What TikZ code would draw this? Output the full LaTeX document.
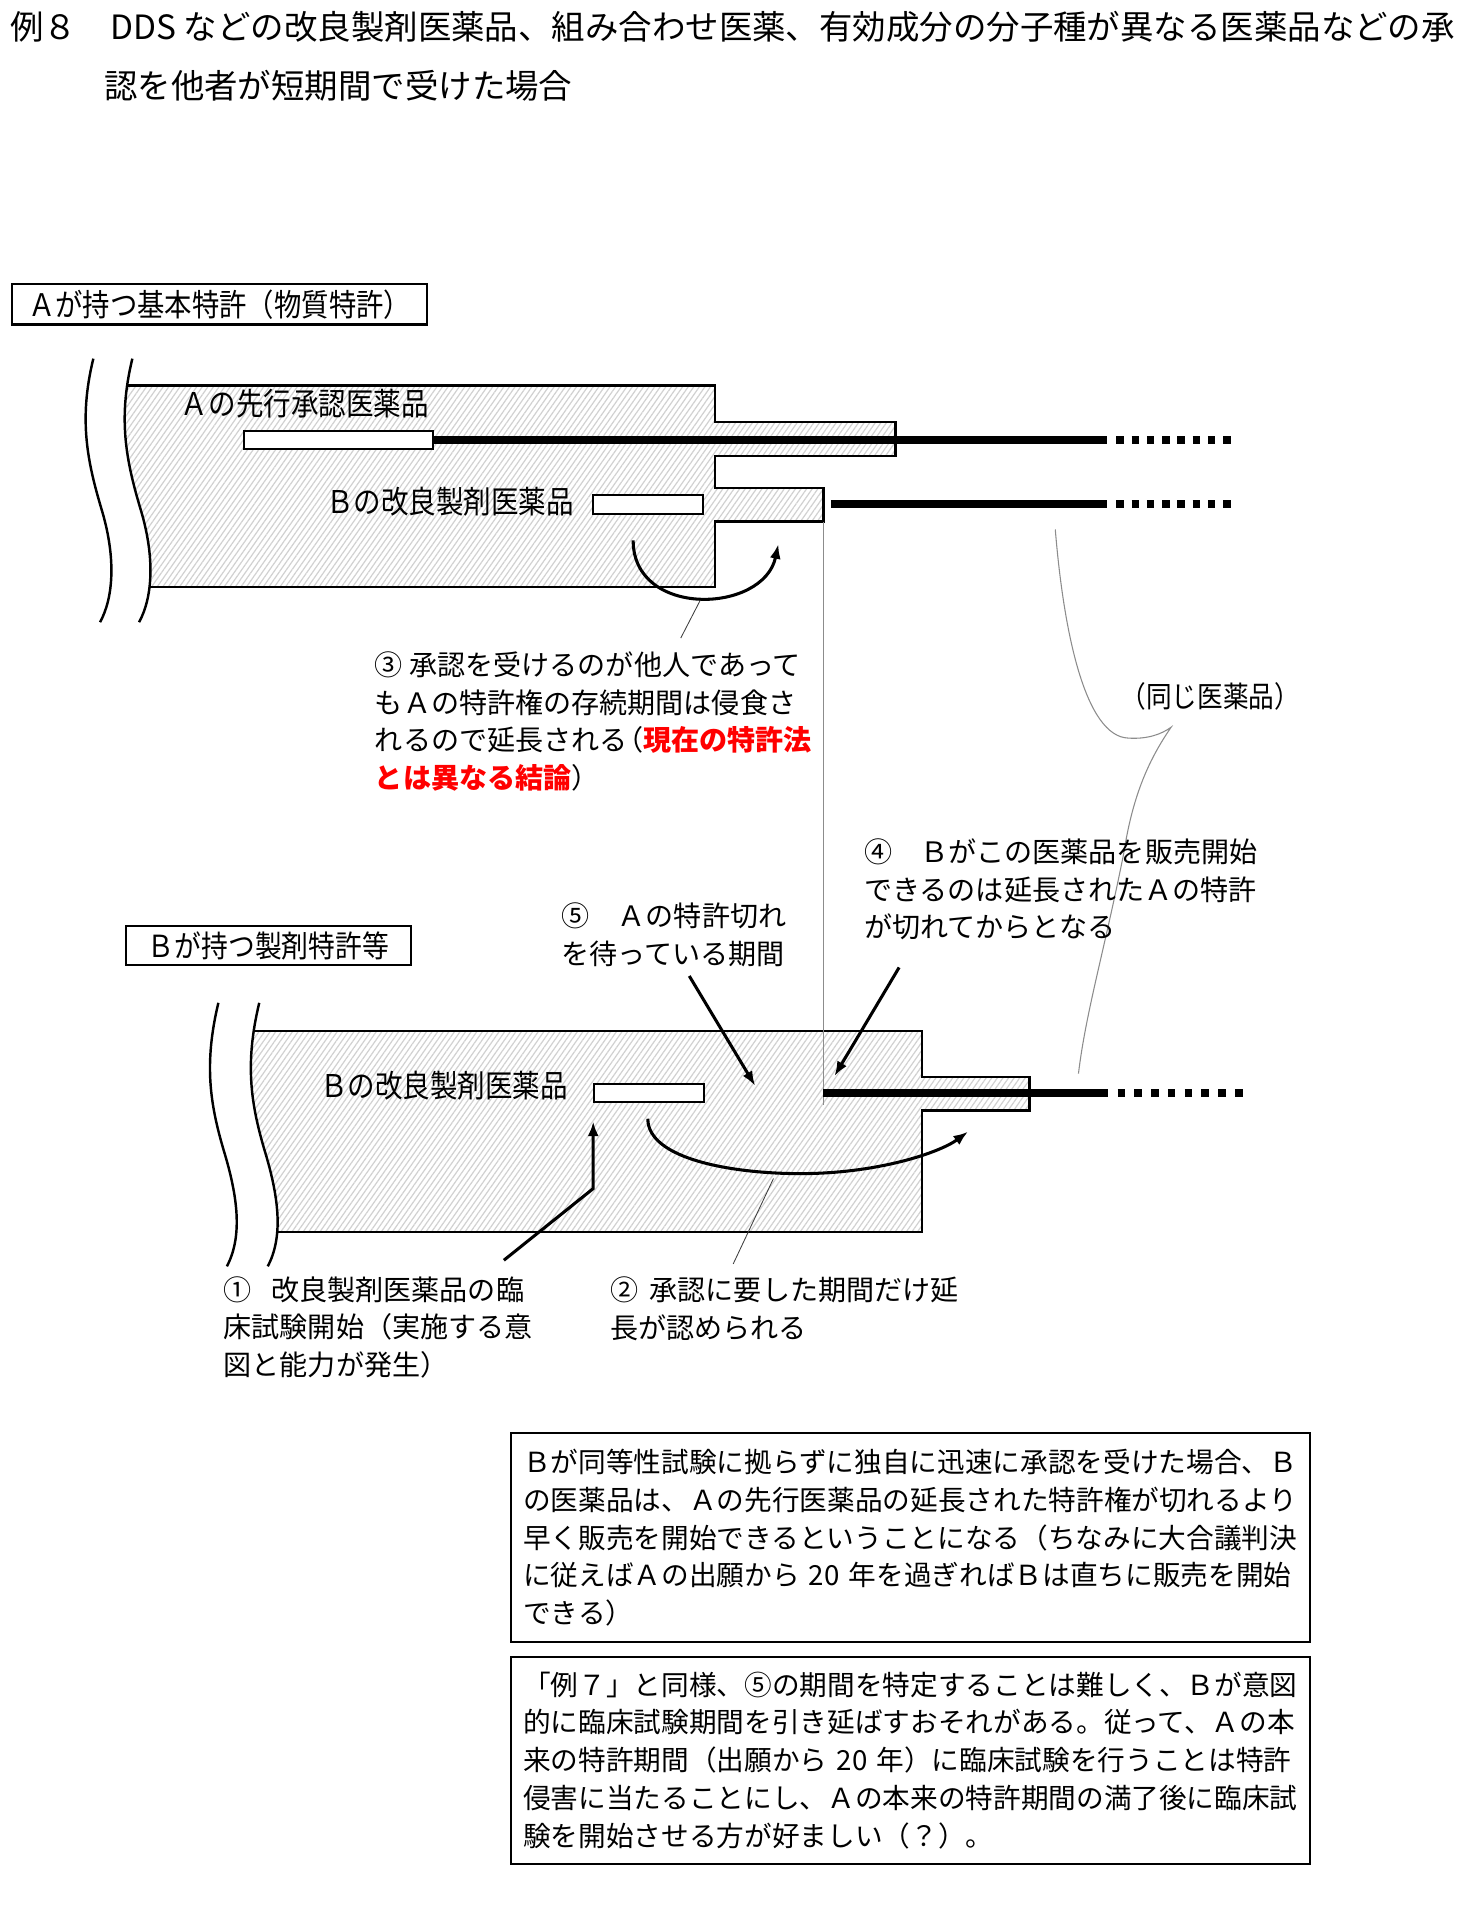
\documentclass[tikz,border=0pt]{standalone}
\usepackage{fontspec}
\setmainfont{Noto Sans CJK JP}
\newfontfamily\jpn{Noto Sans CJK JP}
\newfontfamily\jpnc[FakeStretch=0.88]{Noto Sans CJK JP}
\usepackage{xcolor}
\usetikzlibrary{arrows.meta,patterns.meta}
\tikzset{
  blk/.style={draw, line width=0.4mm, pattern={Lines[angle=55,distance=0.75mm,line width=0.2mm]}, pattern color=black!18},
  wave/.style={line width=0.4mm},
  bar/.style={draw, fill=white, line width=0.3mm, minimum height=3mm, inner sep=0pt},
  tline/.style={line width=1.25mm},
  dline/.style={line width=1.25mm, dash pattern=on 1.25mm off 1.25mm},
  arr/.style={-{Latex[length=2.4mm,width=1.8mm]}, line width=0.5mm},
  lead/.style={line width=0.4pt, black!75},
  grayln/.style={line width=0.5pt, black!45},
  ttl/.style={anchor=west, inner sep=0pt, font=\jpn\fontsize{15.6pt}{18pt}\selectfont},
  tag/.style={draw, line width=0.35mm, inner sep=0pt},
  lbl/.style={anchor=west, inner sep=0pt, font=\jpnc\fontsize{14.6pt}{17pt}\selectfont},
  note/.style={anchor=west, inner sep=0pt, align=left, font=\jpn\fontsize{13.1pt}{17.6pt}\selectfont},
  memo/.style={draw, line width=0.35mm, anchor=north west, align=left, text width=127mm,
    inner xsep=2mm, font=\jpn\fontsize{12.9pt}{17.6pt}\selectfont}
}

\begin{document}
\begin{tikzpicture}[x=0.2mm,y=-0.2mm]
  \useasboundingbox (0,0) rectangle (1209.8,1573.8);

  \node[ttl] (t1) at (8,22) {例８　DDS などの改良製剤医薬品、組み合わせ医薬、有効成分の分子種が異なる医薬品などの承};
  \node[ttl] (t2) at (85,70) {認を他者が短期間で受けた場合};

  \node[tag, minimum width=68mm, minimum height=6.6mm, font=\jpnc\fontsize{14.5pt}{17pt}\selectfont] (patA) at (180,249.5) {Ａが持つ基本特許（物質特許）};
  \node[tag, minimum width=46.8mm, minimum height=6.4mm, font=\jpnc\fontsize{14.2pt}{17pt}\selectfont] (patB) at (220,775) {Ｂが持つ製剤特許等};

  % upper block
  \begin{scope}
    \clip (108.5,294) .. controls (96,345) and (104,380) .. (116,420) .. controls (127,458) and (125,490) .. (114,510) -- (1200,510) -- (1200,280) -- cycle;
    \path[blk] (60,316) -- (586,316) -- (586,346) -- (734,346) -- (734,374) -- (586,374) -- (586,400)
      -- (675,400) -- (675,427.5) -- (586,427.5) -- (586,481) -- (60,481) -- cycle;
  \end{scope}
  \draw[wave] (76.5,294) .. controls (64,345) and (72,380) .. (84,420) .. controls (95,458) and (93,490) .. (82,510);
  \draw[wave] (108.5,294) .. controls (96,345) and (104,380) .. (116,420) .. controls (127,458) and (125,490) .. (114,510);

  % lower block
  \begin{scope}
    \clip (212.5,822) .. controls (200.5,872) and (205.5,905) .. (217.5,945) .. controls (229.5,985) and (231.5,1015) .. (219.5,1038) -- (1200,1038) -- (1200,810) -- cycle;
    \path[blk] (150,845) -- (755.6,845) -- (755.6,883) -- (844,883) -- (844,910.4) -- (755.6,910.4)
      -- (755.6,1010) -- (150,1010) -- cycle;
  \end{scope}
  \draw[wave] (179,822) .. controls (167,872) and (172,905) .. (184,945) .. controls (196,985) and (198,1015) .. (186,1038);
  \draw[wave] (212.5,822) .. controls (200.5,872) and (205.5,905) .. (217.5,945) .. controls (229.5,985) and (231.5,1015) .. (219.5,1038);

  \coordinate (vT) at (675,428);
  \coordinate (vB) at (675,906);
  \draw[grayln] (vT) -- (vB);
  \coordinate (br0) at (865,434);
  \coordinate (brC) at (960,596);
  \coordinate (br1) at (884,880);
  \draw[grayln] (br0) .. controls (872,520) and (890,604) .. (925,605) .. controls (940,606) and (952,602) .. (brC)
    .. controls (940,625) and (928,655) .. (921,700) .. controls (905,780) and (890,830) .. (br1);

  \node[bar, minimum width=31mm] (barA) at (277.5,360.5) {};
  \node[bar, minimum width=18mm] (barB) at (531,413.5) {};
  \node[bar, minimum width=18mm] (barLo) at (532,896) {};

  \coordinate (aE) at (907,360.5);
  \coordinate (aD0) at (915,360.5);
  \coordinate (aD1) at (1009,360.5);
  \draw[tline] (barA.east) -- (aE);
  \draw[dline] (aD0) -- (aD1);
  \coordinate (bS) at (681,413);
  \coordinate (bE) at (907,413);
  \coordinate (bD0) at (915,413);
  \coordinate (bD1) at (1009,413);
  \draw[tline] (bS) -- (bE);
  \draw[dline] (bD0) -- (bD1);
  \coordinate (cE) at (908.6,896);
  \coordinate (cD0) at (916,896);
  \coordinate (cD1) at (1019,896);
  \draw[tline] (vB |- cE) -- (cE);
  \draw[dline, dash pattern=on 1.25mm off 1.5mm] (cD0) -- (cD1);

  % arrows
  \coordinate (c3s) at (519,443);
  \coordinate (c3e) at (638,446);
  \draw[arr] (c3s) .. controls +(0,64) and +(-12,57) .. (c3e);
  \coordinate (c2s) at (531,917);
  \coordinate (c2e) at (793.5,927.6);
  \draw[arr] (c2s) .. controls +(0,33) and +(-56,0) .. (656,962) .. controls +(64,0) and +(-23,17) .. (c2e);
  \coordinate (c1s) at (413,1033);
  \draw[arr] (c1s) -- ([yshift=-14mm]barLo.south west) -- ([yshift=-3mm]barLo.south west);
  \coordinate (p5) at (565,800);
  \coordinate (q5) at (619,890);
  \draw[arr] (p5) -- (q5);
  \coordinate (p4) at (737,793);
  \coordinate (q4) at (684,882);
  \draw[arr] (p4) -- (q4);
  \coordinate (l3a) at (574,492);
  \coordinate (l3b) at (558,523);
  \draw[lead] (l3a) -- (l3b);
  \coordinate (l2a) at (634,966);
  \coordinate (l2b) at (601,1036);
  \draw[lead] (l2a) -- (l2b);

  % labels
  \node[lbl] (drugA) at (148,331) {Ａの先行承認医薬品};
  \node[lbl] (drugB) at (267,411) {Ｂの改良製剤医薬品};
  \node[lbl] (drugLo) at (262,890) {Ｂの改良製剤医薬品};
  \node[lbl, font=\jpnc\fontsize{13.6pt}{16pt}\selectfont] (same) at (918,571) {（同じ医薬品）};

  \node[note] (n3) at (307,591.5) {③ 承認を受けるのが他人であって\\
    もＡの特許権の存続期間は侵食さ\\
    れるので延長される\kern-0.45em（\textcolor{red}{\bfseries 現在の特許法}\\
    \textcolor{red}{\bfseries とは異なる結論}）};
  \node[note] (n4) at (708,729) {④　Ｂがこの医薬品を販売開始\\
    できるのは延長されたＡの特許\\
    が切れてからとなる};
  \node[note] (n5) at (460,766.5) {⑤　Ａの特許切れ\\
    を待っている期間};
  \node[note] (n1) at (183,1088) {①\hspace{0.7em}改良製剤医薬品の臨\\
    床試験開始（実施する意\\
    図と能力が発生）};
  \node[note] (n2) at (500,1072.5) {②\hspace{0.4em}承認に要した期間だけ延\\
    長が認められる};

  \node[memo, minimum height=34.2mm] (memo1) at (418,1174) {Ｂが同等性試験に拠らずに独自に迅速に承認を受けた場合、Ｂ\\
    の医薬品は、Ａの先行医薬品の延長された特許権が切れるより\\
    早く販売を開始できるということになる（ちなみに大合議判決\\
    に従えばＡの出願から~20~年を過ぎればＢは直ちに販売を開始\\
    できる）};
  \node[memo, minimum height=34mm] (memo2) at (418,1357) {「例７」と同様、⑤の期間を特定することは難しく、Ｂが意図\\
    的に臨床試験期間を引き延ばすおそれがある。従って、Ａの本\\
    来の特許期間（出願から~20~年）に臨床試験を行うことは特許\\
    侵害に当たることにし、Ａの本来の特許期間の満了後に臨床試\\
    験を開始させる方が好ましい（？）。};
\end{tikzpicture}
\end{document}
